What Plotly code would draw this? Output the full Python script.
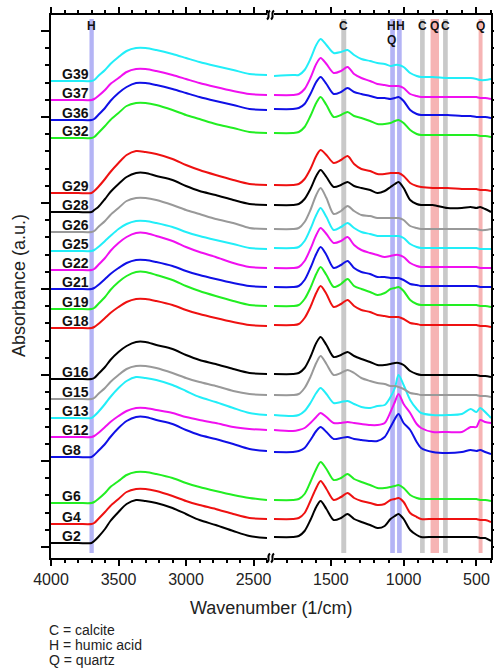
import plotly.graph_objects as go

# Wavenumber grids (1/cm) for the two panels of the broken axis
wn_high = [4000, 3800, 3700, 3680, 3650, 3600, 3560, 3500, 3440, 3370,
           3300, 3220, 3100, 3000, 2900, 2780, 2650, 2530, 2400]
wn_low = [1890, 1760, 1720, 1680, 1640, 1600, 1570, 1530, 1480, 1430, 1385,
          1340, 1290, 1230, 1180, 1130, 1090, 1060, 1035, 1000, 955, 910,
          880, 800, 700, 600, 540, 500, 475, 440, 400]

samples = ["G2", "G4", "G6", "G8", "G12", "G13", "G15", "G16", "G18", "G19",
           "G21", "G22", "G25", "G26", "G28", "G29", "G32", "G36", "G37", "G39"]

# vertical stacking offset of each spectrum (mAU)
stack_offset = [4, 23, 44, 90, 110, 129, 148, 168, 219, 238,
                258, 277, 296, 315, 335, 354, 409, 427, 447, 466]

line_colors = ["#000000", "#ee1111", "#22ee22", "#1010e6", "#f010f0", "#22eef8",
               "#999999", "#000000", "#ee1111", "#22ee22", "#1010e6", "#f010f0",
               "#22eef8", "#999999", "#000000", "#ee1111", "#22ee22", "#1010e6",
               "#f010f0", "#22eef8"]

# absorbance (mAU, relative to each baseline), high-wavenumber panel
g2_hi = [0, 0, 0, 2, 6, 14, 22, 31, 39, 43, 42, 40, 35, 29, 23, 18, 12, 7, 5]
g4_hi = [0, 0, 0, 1, 5, 12, 18, 25, 32, 35, 35, 33, 28, 23, 19, 15, 10, 6, 5]
g6_hi = [0, 0, 0, 1, 4, 10, 16, 22, 28, 31, 31, 29, 25, 20, 16, 12, 8, 5, 3]
g8_hi = [0, 0, 0, 2, 6, 13, 20, 29, 36, 40, 40, 37, 33, 27, 22, 18, 13, 8, 6]
g12_hi = [0, 0, 0, 1, 4, 10, 15, 21, 26, 29, 29, 27, 24, 20, 17, 14, 10, 8, 7]
g13_hi = [0, 0, 0, 2, 6, 14, 21, 30, 37, 41, 40, 38, 33, 27, 21, 16, 10, 5, 3]
g15_hi = [0, 0, 0, 1, 5, 11, 17, 24, 30, 33, 33, 31, 26, 21, 17, 13, 8, 5, 4]
g16_hi = [0, 0, 0, 1, 5, 12, 19, 27, 33, 37, 37, 34, 30, 24, 19, 15, 10, 6, 5]
g18_hi = [0, 0, 0, 1, 4, 10, 15, 21, 26, 29, 29, 27, 23, 18, 14, 10, 6, 3, 2]
g19_hi = [0, 0, 0, 1, 5, 12, 19, 27, 33, 37, 37, 34, 29, 23, 18, 13, 8, 4, 3]
g21_hi = [0, 0, 0, 1, 4, 10, 15, 21, 26, 29, 29, 27, 23, 18, 14, 10, 6, 3, 2]
g22_hi = [0, 0, 0, 1, 5, 12, 19, 27, 33, 37, 37, 34, 29, 23, 18, 13, 7, 3, 2]
g25_hi = [0, 0, 0, 1, 4, 10, 15, 22, 27, 30, 30, 28, 24, 19, 15, 11, 7, 3, 2]
g26_hi = [0, 0, 0, 1, 5, 11, 17, 24, 31, 34, 34, 32, 27, 22, 18, 13, 9, 4, 3]
g28_hi = [0, 0, 0, 2, 5, 13, 20, 28, 35, 39, 39, 36, 32, 26, 21, 17, 12, 8, 7]
g29_hi = [0, 0, 0, 2, 6, 14, 21, 30, 38, 42, 41, 39, 34, 28, 23, 18, 13, 9, 8]
g32_hi = [0, 0, 0, 1, 5, 12, 18, 25, 32, 35, 35, 33, 28, 23, 19, 14, 10, 6, 5]
g36_hi = [0, 0, 0, 1, 5, 12, 19, 27, 33, 37, 37, 35, 31, 27, 23, 19, 15, 11, 10]
g37_hi = [0, 0, 0, 1, 4, 10, 16, 22, 28, 31, 31, 29, 25, 21, 17, 13, 9, 6, 5]
g39_hi = [0, 0, 0, 1, 5, 11, 17, 24, 30, 33, 33, 31, 27, 23, 19, 15, 11, 7, 6]

# absorbance (mAU, relative to each baseline), fingerprint panel
g2_lo = [6, 6, 7, 12, 23, 36, 42, 34, 23, 25, 29, 24, 21, 18, 15, 17, 24, 27, 29, 24, 13, 8,
         6, 6, 6, 6, 6, 6, 5, 5, 2]
g4_lo = [5, 5, 6, 11, 23, 36, 43, 35, 24, 27, 31, 26, 23, 21, 19, 20, 24, 25, 26, 22, 11, 7,
         5, 5, 5, 5, 5, 5, 4, 4, 2]
g6_lo = [3, 3, 4, 9, 21, 34, 41, 34, 23, 25, 29, 24, 21, 18, 15, 15, 16, 17, 18, 15, 8, 5,
         4, 4, 4, 4, 4, 4, 3, 3, 2]
g8_lo = [5, 5, 6, 9, 17, 26, 30, 25, 18, 19, 20, 18, 17, 16, 16, 20, 30, 38, 43, 34, 27, 15,
         9, 5, 4, 5, 7, 6, 7, 5, 3]
g12_lo = [7, 6, 7, 9, 14, 20, 24, 20, 14, 14, 15, 14, 13, 12, 12, 14, 25, 35, 43, 33, 24, 13,
          9, 5, 5, 5, 10, 10, 17, 15, 14]
g13_lo = [3, 2, 3, 7, 15, 25, 30, 24, 15, 16, 17, 14, 11, 10, 12, 13, 21, 30, 43, 33, 18, 9,
          5, 3, 3, 4, 9, 6, 10, 6, 0]
g15_lo = [4, 4, 5, 11, 22, 36, 43, 35, 24, 26, 29, 26, 21, 18, 16, 15, 13, 13, 12, 10, 6, 5,
          4, 4, 4, 4, 4, 4, 3, 3, 2]
g16_lo = [5, 5, 6, 11, 22, 36, 42, 34, 22, 24, 27, 23, 20, 17, 14, 14, 15, 16, 16, 14, 8, 5,
          4, 4, 4, 4, 4, 4, 3, 3, 2]
g18_lo = [3, 3, 4, 10, 21, 35, 42, 34, 21, 24, 28, 22, 18, 16, 13, 12, 11, 11, 11, 9, 5, 4,
          3, 3, 3, 3, 3, 3, 2, 2, 1]
g19_lo = [3, 3, 4, 10, 21, 35, 42, 34, 22, 25, 30, 23, 20, 17, 14, 16, 20, 21, 22, 18, 9, 5,
          4, 4, 4, 4, 4, 4, 3, 3, 2]
g21_lo = [2, 2, 3, 9, 21, 35, 42, 34, 21, 24, 28, 21, 17, 15, 12, 12, 11, 11, 11, 9, 5, 4,
          3, 3, 3, 3, 3, 3, 2, 2, 2]
g22_lo = [2, 2, 3, 9, 21, 35, 42, 36, 27, 29, 33, 25, 20, 17, 15, 13, 14, 15, 15, 13, 7, 4,
          3, 3, 3, 3, 3, 3, 2, 2, 2]
g25_lo = [3, 3, 4, 10, 22, 36, 43, 34, 21, 24, 28, 23, 19, 17, 15, 15, 15, 15, 15, 13, 7, 4,
          3, 3, 3, 3, 3, 3, 2, 2, 2]
g26_lo = [3, 3, 4, 10, 22, 37, 44, 34, 18, 21, 26, 21, 17, 16, 14, 14, 14, 14, 14, 12, 6, 4,
          3, 3, 3, 3, 3, 3, 2, 2, 3]
g28_lo = [7, 7, 8, 13, 23, 36, 42, 35, 25, 27, 30, 26, 24, 22, 19, 21, 25, 28, 30, 24, 12, 8,
          7, 7, 4, 4, 5, 4, 5, 3, 0]
g29_lo = [8, 8, 9, 14, 24, 37, 43, 38, 30, 33, 37, 29, 24, 22, 19, 19, 20, 20, 20, 17, 10, 7,
          6, 5, 5, 4, 4, 4, 3, 3, 2]
g32_lo = [5, 5, 6, 11, 22, 35, 41, 33, 21, 23, 26, 22, 20, 17, 14, 14, 15, 17, 18, 15, 8, 4,
          3, 3, 3, 3, 3, 3, 2, 2, 1]
g36_lo = [11, 11, 12, 16, 26, 38, 43, 36, 26, 28, 32, 28, 26, 24, 22, 22, 21, 22, 23, 19, 10, 6,
          5, 5, 5, 4, 4, 3, 3, 3, 2]
g37_lo = [5, 5, 6, 11, 22, 36, 42, 36, 27, 29, 33, 26, 22, 19, 16, 15, 14, 14, 14, 12, 6, 4,
          3, 3, 3, 3, 3, 3, 2, 2, 1]
g39_lo = [5, 6, 6, 11, 22, 36, 42, 36, 28, 29, 31, 26, 22, 20, 18, 17, 15, 16, 16, 14, 8, 5,
          4, 4, 3, 3, 3, 2, 1, 1, 2]

spectra_hi = [g2_hi, g4_hi, g6_hi, g8_hi, g12_hi, g13_hi, g15_hi, g16_hi, g18_hi, g19_hi,
              g21_hi, g22_hi, g25_hi, g26_hi, g28_hi, g29_hi, g32_hi, g36_hi, g37_hi, g39_hi]
spectra_lo = [g2_lo, g4_lo, g6_lo, g8_lo, g12_lo, g13_lo, g15_lo, g16_lo, g18_lo, g19_lo,
              g21_lo, g22_lo, g25_lo, g26_lo, g28_lo, g29_lo, g32_lo, g36_lo, g37_lo, g39_lo]

# assignment bands: (high edge, low edge, mineral code)
band_ranges = [(3715, 3683, "H"), (1428, 1394, "C"), (1092, 1060, "H"), (1045, 1013, "H"),
               (887, 855, "C"), (815, 757, "Q"), (729, 697, "C"), (485, 458, "Q")]
band_colors = {"C": "#c9c9c9", "H": "#b4b4f5", "Q": "#f6b4b4"}
# where each band letter is written (wavenumber), top row then second row
band_letters = [("H", 3699), ("C", 1411), ("H", 1083), ("H", 1021), ("C", 871),
                ("Q", 786), ("C", 713), ("Q", 471)]
band_letters_row2 = [("Q", 1080)]
key_lines = ["C = calcite", "H = humic acid", "Q = quartz"]

FONT = "Arial, Liberation Sans, sans-serif"
W, H = 494, 668
ML, MR, MT, MB = 51, 3, 15, 110
Y_RANGE = [-11, 532]
SPLIT_HI = 216 / 440   # end of the high-wavenumber panel (paper fraction)
SPLIT_LO = 223 / 440   # start of the fingerprint panel


def px_to_paper(px, py):
    return (px - ML) / (W - ML - MR), (H - MB - py) / (H - MT - MB)


fig = go.Figure()

for name, off, col, hi, lo in zip(samples, stack_offset, line_colors, spectra_hi, spectra_lo):
    fig.add_trace(go.Scatter(x=wn_high, y=[off + v for v in hi], mode="lines",
                             line=dict(color=col, width=2, shape="spline", smoothing=0.8),
                             xaxis="x", yaxis="y", showlegend=False, hoverinfo="skip"))
    fig.add_trace(go.Scatter(x=wn_low, y=[off + v for v in lo], mode="lines",
                             line=dict(color=col, width=2, shape="spline", smoothing=0.8),
                             xaxis="x2", yaxis="y", showlegend=False, hoverinfo="skip"))
    fig.add_annotation(text=f"<b>{name}</b>", xref="paper", yref="y",
                       x=px_to_paper(60, 0)[0], y=off + 7.5, xanchor="left", yanchor="middle",
                       showarrow=False, font=dict(family=FONT, size=14, color="#111"))

# right-hand y axis carrier
fig.add_trace(go.Scatter(x=[], y=[], xaxis="x2", yaxis="y2", showlegend=False))

# shaded assignment bands
for hi_edge, lo_edge, code in band_ranges:
    axis = "x" if hi_edge > 2000 else "x2"
    fig.add_shape(type="rect", xref=axis, yref="y", x0=hi_edge, x1=lo_edge, y0=-6, y1=528,
                  fillcolor=band_colors[code], line=dict(width=0), layer="below")

for row_y, letters in ((521.5, band_letters), (507.5, band_letters_row2)):
    for code, wn in letters:
        axis = "x" if wn > 2000 else "x2"
        fig.add_annotation(text=f"<b>{code}</b>", xref=axis, yref="y", x=wn, y=row_y,
                           showarrow=False, xanchor="center", yanchor="middle",
                           font=dict(family=FONT, size=12, color="#111"))

# axis-break marks on the top and bottom axes
for cy in (MT, H - MB):
    for cx in (268.5, 272.5):
        x0, y0 = px_to_paper(cx - 1.5, cy + 4.5)
        xa, ya = px_to_paper(cx + 2.5, cy + 1.5)
        xb, yb = px_to_paper(cx - 2.5, cy - 1.5)
        x1, y1 = px_to_paper(cx + 1.5, cy - 4.5)
        fig.add_shape(type="path", xref="paper", yref="paper",
                      path=f"M {x0},{y0} C {xa},{ya} {xb},{yb} {x1},{y1}",
                      line=dict(color="black", width=2))

# axis titles and key
fig.add_annotation(text="Absorbance (a.u.)", xref="paper", yref="paper",
                   x=px_to_paper(19, 0)[0], y=px_to_paper(0, 286)[1], textangle=-90,
                   showarrow=False, xanchor="center", yanchor="middle",
                   font=dict(family=FONT, size=18, color="#222"))
fig.add_annotation(text="Wavenumber (1/cm)", xref="paper", yref="paper",
                   x=px_to_paper(271, 0)[0], y=px_to_paper(0, 608)[1],
                   showarrow=False, xanchor="center", yanchor="middle",
                   font=dict(family=FONT, size=18, color="#222"))
for i, txt in enumerate(key_lines):
    fig.add_annotation(text=txt, xref="paper", yref="paper",
                       x=px_to_paper(47, 0)[0], y=px_to_paper(0, 630 + 15 * i)[1],
                       showarrow=False, xanchor="left", yanchor="middle",
                       font=dict(family=FONT, size=14, color="#222"))

x_common = dict(showline=True, linecolor="black", linewidth=2, mirror="ticks",
                ticks="outside", ticklen=6, tickwidth=1.5, tickcolor="black",
                tickmode="linear", tick0=0, dtick=500, showgrid=False, zeroline=False,
                automargin=False,
                tickfont=dict(family=FONT, size=16, color="#222"),
                minor=dict(ticks="outside", ticklen=3, tickwidth=1.5, tickcolor="black",
                           dtick=100, tick0=0, showgrid=False))
y_common = dict(range=Y_RANGE, showline=True, linecolor="black", linewidth=2,
                ticks="outside", ticklen=8, tickwidth=1.5, tickcolor="black",
                tickmode="linear", tick0=0, dtick=86, showticklabels=False,
                showgrid=False, zeroline=False, automargin=False,
                minor=dict(ticks="outside", ticklen=4, tickwidth=1.5, tickcolor="black",
                           dtick=17.2, tick0=0, showgrid=False))

fig.update_layout(
    width=W, height=H, autosize=False,
    margin=dict(l=ML, r=MR, t=MT, b=MB),
    paper_bgcolor="white", plot_bgcolor="white",
    showlegend=False,
    xaxis=dict(range=[4000, 2400], domain=[0, SPLIT_HI], anchor="y", **x_common),
    xaxis2=dict(range=[1890, 400], domain=[SPLIT_LO, 1], anchor="y", **x_common),
    yaxis=dict(anchor="x", **y_common),
    yaxis2=dict(anchor="x2", overlaying="y", side="right", **y_common),
)

fig.write_html("out.html", config={"displayModeBar": False, "responsive": False})
